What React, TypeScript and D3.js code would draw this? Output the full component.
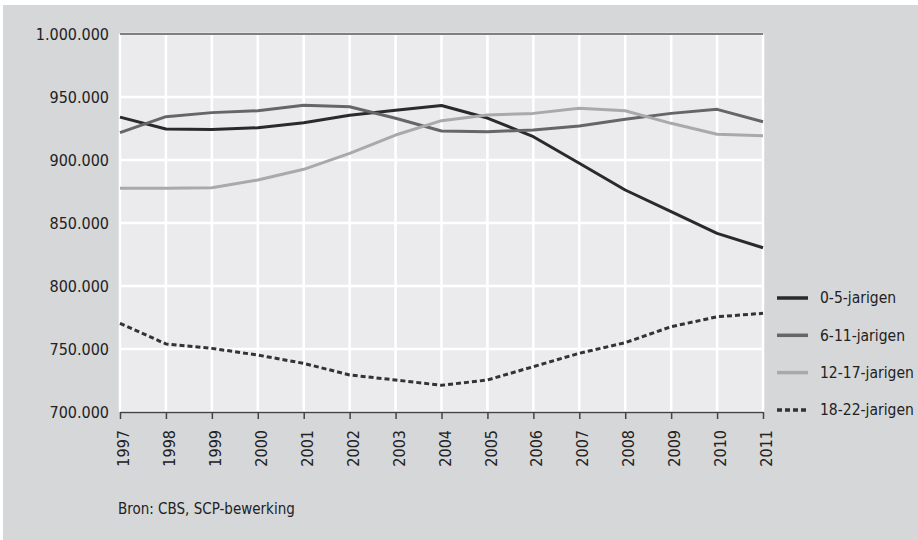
import { useEffect, useRef } from "react";
import * as d3 from "d3";

const WIDTH = 918;
const HEIGHT = 540;
const MARGIN = { top: 34, right: 155, bottom: 128, left: 120 };
const FONT = "'Liberation Sans Narrow', 'DejaVu Sans Condensed', 'Roboto Condensed', sans-serif";

const years = [1997, 1998, 1999, 2000, 2001, 2002, 2003, 2004, 2005, 2006, 2007, 2008, 2009, 2010, 2011];

const age0to5 = [934000, 924600, 924200, 925600, 929600, 935500, 939500, 943300, 933300, 918500, 897400, 876200, 859000, 841800, 830400];
const age6to11 = [921700, 934400, 937600, 939100, 943500, 942300, 933100, 923000, 922500, 923800, 927000, 932300, 937000, 940200, 930400];
const age12to17 = [877500, 877500, 878000, 884100, 892600, 905300, 919800, 931200, 935700, 937000, 941000, 939100, 929100, 920400, 919300];
const age18to22 = [770400, 754000, 750500, 745200, 738600, 729400, 725400, 721200, 725400, 736000, 746600, 755000, 767700, 775600, 778300];

const seriesNames = ["0-5-jarigen", "6-11-jarigen", "12-17-jarigen", "18-22-jarigen"];
const seriesValues = [age0to5, age6to11, age12to17, age18to22];
const seriesColors = ["#2a2a2a", "#666666", "#a9a9ab", "#333333"];
const seriesDash = [null, null, null, "5,3"];

const yTicks = [700000, 750000, 800000, 850000, 900000, 950000, 1000000];
const source = "Bron: CBS, SCP-bewerking";

const App = () => {
  const axesRef = useRef<SVGGElement | null>(null);
  const boundsWidth = WIDTH - MARGIN.left - MARGIN.right;
  const boundsHeight = HEIGHT - MARGIN.top - MARGIN.bottom;

  const xScale = d3.scaleLinear().domain([1997, 2011]).range([0, boundsWidth]);
  const yScale = d3.scaleLinear().domain([700000, 1000000]).range([boundsHeight, 0]);

  const fmt = (v: number) => d3.format(",")(v).replace(/,/g, ".");

  const line = d3
    .line<number>()
    .x((_, i) => xScale(years[i]))
    .y((d) => yScale(d));

  useEffect(() => {
    const g = d3.select(axesRef.current);
    g.selectAll("*").remove();

    // bottom axis with ticks pointing down
    const xAxis = g
      .append("g")
      .attr("transform", `translate(0,${boundsHeight})`)
      .call(d3.axisBottom(xScale).tickValues(years).tickFormat(d3.format("d")).tickSize(7).tickSizeOuter(0));
    xAxis.select(".domain").attr("stroke", "#444").attr("stroke-width", 1.5);
    xAxis.selectAll(".tick line").attr("stroke", "#444").attr("stroke-width", 1.5);
    xAxis
      .selectAll(".tick text")
      .attr("font-family", FONT)
      .attr("font-size", 16)
      .attr("fill", "#222")
      .attr("text-anchor", "end")
      .attr("transform", "rotate(-90)")
      .attr("x", -18)
      .attr("y", 3)
      .attr("dy", "0.35em");

    // y labels only
    const yAxis = g.append("g").call(d3.axisLeft(yScale).tickValues(yTicks).tickFormat((d) => fmt(+d)).tickSize(0).tickPadding(11));
    yAxis.select(".domain").remove();
    yAxis
      .selectAll(".tick text")
      .attr("font-family", FONT)
      .attr("font-size", 16)
      .attr("fill", "#222");
  }, [boundsHeight]);

  return (
    <svg width={WIDTH} height={HEIGHT} style={{ position: "absolute", left: 0, top: 0 }}>
      <rect x={0} y={0} width={WIDTH} height={HEIGHT} fill="#ffffff" />
      <rect x={3} y={5} width={WIDTH - 3} height={HEIGHT - 5} fill="#d6d7d9" />
      <g transform={`translate(${MARGIN.left},${MARGIN.top})`}>
        <rect x={0} y={0} width={boundsWidth} height={boundsHeight} fill="#ebebed" />
        {yTicks.map((t) => (
          <line key={t} x1={0} x2={boundsWidth} y1={yScale(t)} y2={yScale(t)} stroke="#ffffff" strokeWidth={2.5} />
        ))}
        {years.map((yr) => (
          <line key={yr} x1={xScale(yr)} x2={xScale(yr)} y1={0} y2={boundsHeight} stroke="#ffffff" strokeWidth={2.5} />
        ))}
        <line x1={0} x2={boundsWidth} y1={0} y2={0} stroke="#555" strokeWidth={1.5} />
        {seriesValues.map((vals, i) => (
          <path
            key={seriesNames[i]}
            d={line(vals) ?? ""}
            fill="none"
            stroke={seriesColors[i]}
            strokeWidth={3}
            strokeDasharray={seriesDash[i] ?? undefined}
            strokeLinejoin="round"
          />
        ))}
      </g>
      <g ref={axesRef} transform={`translate(${MARGIN.left},${MARGIN.top})`} />
      <g transform="translate(777,298)">
        {seriesNames.map((name, i) => (
          <g key={name} transform={`translate(0,${i * 37.3})`}>
            <line
              x1={0}
              x2={31}
              y1={0}
              y2={0}
              stroke={seriesColors[i]}
              strokeWidth={3.5}
              strokeDasharray={seriesDash[i] ?? undefined}
            />
            <text x={43} y={0} dy="0.35em" fontFamily={FONT} fontSize={15.5} fill="#222">
              {name}
            </text>
          </g>
        ))}
      </g>
      <text x={118} y={514} fontFamily={FONT} fontSize={15} fill="#222">
        {source}
      </text>
    </svg>
  );
};

export default App;
